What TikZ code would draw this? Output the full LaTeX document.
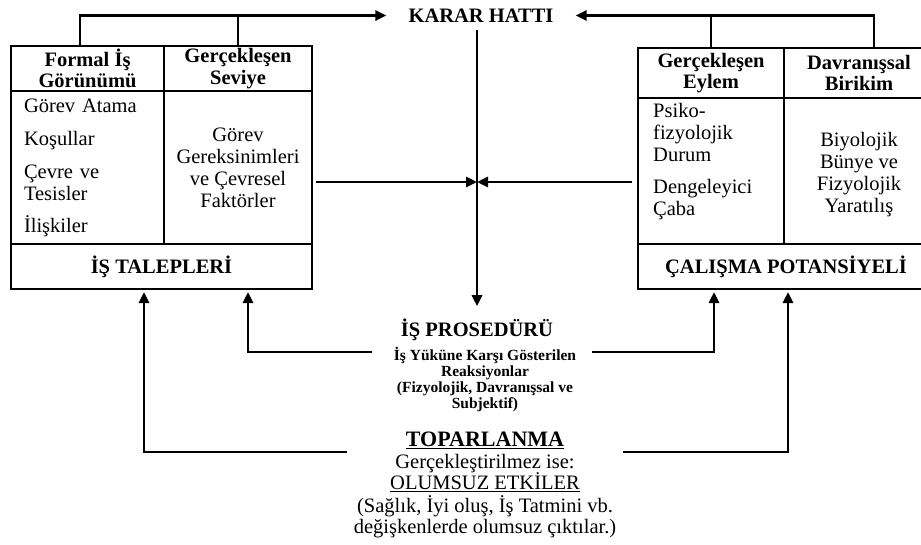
\documentclass[tikz,border=0pt]{standalone}
\usepackage{fontspec}
\setmainfont{Liberation Serif}
\usepackage{tikz}
\usetikzlibrary{positioning}
\usetikzlibrary{shapes,arrows,calc,arrows.meta}

\begin{document}
\begin{tikzpicture}[x=1pt, y=-1pt, font=\fontsize{20.5}{22}\selectfont,
    cell/.style={draw, rectangle, line width=1.3pt, inner sep=0pt, outer sep=0pt, anchor=north west, align=center},
    head/.style={cell, font=\bfseries\fontsize{20.5}{21.5}\selectfont},
    link/.style={line width=2.8pt},
    arr/.style={link, -{Triangle[length=11pt,width=10pt]}}]
    \useasboundingbox (0,0) rectangle (921,544);

    % Nodes
    \node [head, minimum width=153pt, minimum height=45pt] (talH1) at (11,46) {Formal İş\\Görünümü};
    \node [head, minimum width=148pt, minimum height=45pt] (talH2) at (164,46) {Gerçekleşen\\Seviye};
    \node [cell, minimum width=153pt, minimum height=153pt, text width=127pt, align=left] (talB1) at (11,91) {Görev Atama\\[11pt]Koşullar\\[11pt]Çevre ve\\Tesisler\\[10pt]İlişkiler};
    \node [cell, minimum width=148pt, minimum height=153pt] (talB2) at (164,91) {Görev\\Gereksinimleri\\ve Çevresel\\Faktörler};
    \node [head, minimum width=301pt, minimum height=45pt] (talF) at (11,244) {İŞ TALEPLERİ};

    \node [head, minimum width=146pt, minimum height=50pt] (potH1) at (638,48) {Gerçekleşen\\Eylem};
    \node [head, minimum width=150pt, minimum height=50pt] (potH2) at (784,48) {Davranışsal\\Birikim};
    \node [cell, minimum width=146pt, minimum height=146pt] (potB1) at (638,98) {};
    \node [align=left, anchor=west, inner sep=0pt] (potB1t) at ([xshift=15pt, yshift=9pt]potB1.west) {Psiko-\\fizyolojik\\Durum\\[10pt]Dengeleyici\\Çaba};
    \node [cell, minimum width=150pt, minimum height=146pt] (potB2) at (784,98) {};
    \node [align=center, inner sep=0pt] (potB2t) at ([yshift=-4pt]potB2.center) {Biyolojik\\Bünye ve\\Fizyolojik\\Yaratılış};
    \node [head, minimum width=296pt, minimum height=45pt] (potF) at (638,244) {ÇALIŞMA POTANSİYELİ};

    \node [font=\bfseries\fontsize{20.5}{22}\selectfont, inner xsep=22pt, inner ysep=8pt] (karar) at (481,15.5) {KARAR HATTI};
    \node [font=\bfseries\fontsize{20.5}{22}\selectfont, anchor=base, inner ysep=12pt] (prosedur) at (477,336) {İŞ PROSEDÜRÜ};
    \node [font=\bfseries\fontsize{15.5}{16}\selectfont, align=center, anchor=north, inner sep=0pt] (tepki) at (485,347) {İş Yüküne Karşı Gösterilen\\Reaksiyonlar\\(Fizyolojik, Davranışsal ve\\Subjektif)};
    \node [font=\fontsize{20.5}{21.5}\selectfont, align=center, anchor=north, inner sep=0pt] (toparlanma) at (485,432) {{\bfseries\fontsize{22}{22}\selectfont\underline{TOPARLANMA}}\\Gerçekleştirilmez ise:\\\underline{OLUMSUZ ETKİLER}\\[1pt](Sağlık, İyi oluş, İş Tatmini vb.\\değişkenlerde olumsuz çıktılar.)};

    % Free ends
    \coordinate (meet) at (477,182);
    \coordinate (tepkiL) at (372,352);
    \coordinate (tepkiR) at (592,352);
    \coordinate (topL) at (347,452);
    \coordinate (topR) at (623,452);

    % Arrows
    \draw [arr] ([xshift=-7.5pt]talH1.north) |- (karar.west);
    \draw [link] (talH2.north) -- (talH2.north |- karar.west);
    \draw [arr] ([xshift=15pt]potH2.north) |- (karar.east);
    \draw [link] (potH1.north) -- (potH1.north |- karar.east);
    \draw [arr] (karar.south -| prosedur.north) -- (prosedur.north);
    \draw [arr, shorten <=4pt] (talB2.east |- meet) -- (meet);
    \draw [arr, shorten <=6pt] (potB1.west |- meet) -- (meet);
    \draw [arr, shorten >=3pt] (tepkiL) -| ([xshift=86.5pt]talF.south);
    \draw [arr, shorten >=3pt] (tepkiR) -| ([xshift=-72pt]potF.south);
    \draw [arr, shorten >=3pt] (topL) -| ([xshift=-17.5pt]talF.south);
    \draw [arr, shorten >=3pt] (topR) -| ([xshift=2pt]potF.south);
\end{tikzpicture}
\end{document}
